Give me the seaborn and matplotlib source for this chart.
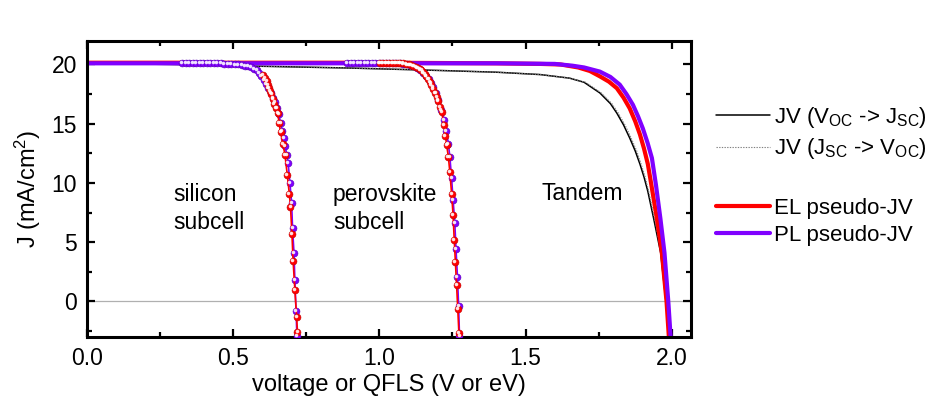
import numpy as np
import pandas as pd
import matplotlib
matplotlib.use('Agg')
import matplotlib.pyplot as plt
import matplotlib.transforms as mtransforms
from matplotlib.ticker import MultipleLocator
import seaborn as sns

# --- Data (voltage / QFLS in V or eV, J in mA/cm2) ---
# Tandem, measured JV (Voc -> Jsc)
jv_fwd_v = [0.0, 0.3, 0.6, 0.9, 1.2, 1.4, 1.55, 1.65, 1.70, 1.754, 1.79, 1.812, 1.835,
            1.856, 1.875, 1.891, 1.905, 1.918, 1.938, 1.962, 1.980, 1.990]
jv_fwd_j = [20.1, 20.0, 19.85, 19.7, 19.5, 19.35, 19.15, 18.85, 18.5, 17.6, 16.7, 15.9, 14.9,
            13.8, 12.7, 11.6, 10.5, 9.3, 7.0, 4.1, 0.0, -3.0]
# Tandem, measured JV (Jsc -> Voc)
jv_rev_v = [0.0, 0.3, 0.6, 0.9, 1.2, 1.4, 1.55, 1.65, 1.705, 1.759, 1.795, 1.817, 1.840,
            1.861, 1.880, 1.895, 1.909, 1.921, 1.941, 1.964, 1.981, 1.990]
jv_rev_j = [20.1, 20.0, 19.85, 19.7, 19.5, 19.35, 19.15, 18.85, 18.5, 17.6, 16.7, 15.9, 14.9,
            13.8, 12.7, 11.6, 10.5, 9.3, 7.0, 4.1, 0.0, -3.0]
# Tandem, EL pseudo-JV
el_tan_v = [0.0, 1.0, 1.4, 1.55, 1.62, 1.68, 1.72, 1.754, 1.785, 1.812, 1.835, 1.856, 1.875,
            1.891, 1.905, 1.918, 1.927, 1.949, 1.966, 1.982, 1.990]
el_tan_j = [20.15, 20.15, 20.1, 20.05, 20.0, 19.75, 19.45, 19.0, 18.55, 18.0, 17.2, 16.3, 15.2,
            14.1, 12.9, 11.6, 10.3, 7.0, 4.1, 0.0, -3.0]
# Tandem, PL pseudo-JV
pl_tan_v = [0.0, 1.0, 1.4, 1.6, 1.66, 1.70, 1.754, 1.79, 1.822, 1.845, 1.867, 1.885, 1.901,
            1.917, 1.932, 1.946, 1.961, 1.975, 1.988, 1.996]
pl_tan_j = [20.1, 20.1, 20.1, 20.05, 19.9, 19.75, 19.4, 18.95, 18.3, 17.5, 16.6, 15.6, 14.6,
            13.4, 12.1, 9.8, 7.0, 4.1, 0.0, -3.0]

# Silicon subcell
si_pl_v = [0.325, 0.337, 0.349, 0.361, 0.373, 0.385, 0.397, 0.409, 0.421, 0.433, 0.445, 0.457,
           0.469, 0.481, 0.493, 0.505, 0.517, 0.529, 0.541,
           0.552, 0.562, 0.571, 0.580, 0.588, 0.596, 0.604, 0.612, 0.620, 0.628, 0.636, 0.643,
           0.650, 0.656, 0.662, 0.668, 0.673, 0.678, 0.683, 0.688, 0.694, 0.700, 0.703, 0.708,
           0.711, 0.715, 0.718]
si_pl_j = [20.1, 20.1, 20.1, 20.1, 20.1, 20.1, 20.1, 20.1, 20.1, 20.1, 20.1, 20.1,
           20.05, 20.05, 20.05, 20.0, 20.0, 19.95, 19.9,
           19.85, 19.75, 19.65, 19.5, 19.3, 19.0, 18.7, 18.35, 18.0, 17.6, 17.2, 16.8,
           16.3, 15.8, 15.1, 14.4, 13.8, 13.1, 12.4, 11.7, 10.0, 8.3, 6.2, 4.1,
           1.8, -0.8, -2.9]
si_el_v = [0.603, 0.609, 0.614, 0.618, 0.622, 0.627, 0.631, 0.635, 0.639, 0.645, 0.652, 0.657,
           0.662, 0.670, 0.677, 0.685, 0.692, 0.696, 0.701, 0.705, 0.711, 0.717, 0.720]
si_el_j = [19.1, 18.85, 18.6, 18.3, 18.0, 17.75, 17.5, 17.1, 16.7, 16.3, 15.9, 15.1,
           14.3, 13.3, 12.4, 10.7, 9.1, 8.0, 5.7, 3.4, 1.0, -1.3, -2.6]

# Perovskite subcell
pk_pl_v = [0.890, 0.902, 0.914, 0.926, 0.938, 0.950, 0.962, 0.974, 0.986, 0.998, 1.010, 1.022,
           1.034, 1.046, 1.058, 1.070, 1.082, 1.094, 1.106, 1.118, 1.130, 1.140, 1.150,
           1.160, 1.168, 1.176, 1.184, 1.192, 1.201, 1.212, 1.222, 1.229, 1.236, 1.241, 1.247,
           1.252, 1.258, 1.262, 1.267, 1.271, 1.274]
pk_pl_j = [20.1, 20.1, 20.1, 20.1, 20.1, 20.1, 20.1, 20.1, 20.1, 20.1, 20.1, 20.1,
           20.1, 20.1, 20.1, 20.1, 20.05, 20.0, 19.95, 19.85, 19.7, 19.5, 19.25,
           19.0, 18.75, 18.45, 18.1, 17.6, 17.0, 16.2, 15.3, 14.4, 13.3, 12.2, 10.4,
           8.6, 6.6, 4.4, 2.1, -0.4, -2.9]
pk_el_v = [1.002, 1.012, 1.022, 1.032, 1.042, 1.052, 1.062, 1.072, 1.082, 1.091, 1.100, 1.108,
           1.116, 1.124, 1.131, 1.138, 1.144, 1.150, 1.156, 1.161, 1.167, 1.173, 1.178, 1.184,
           1.190, 1.196, 1.201, 1.207, 1.213, 1.221, 1.226, 1.230, 1.236, 1.241, 1.247, 1.252,
           1.256, 1.260, 1.264, 1.268, 1.272]
pk_el_j = [20.1, 20.1, 20.1, 20.1, 20.1, 20.1, 20.1, 20.1, 20.1, 20.05, 20.0, 19.95,
           19.9, 19.8, 19.7, 19.6, 19.5, 19.35, 19.2, 19.0, 18.8, 18.55, 18.3, 17.95,
           17.6, 17.25, 16.9, 16.45, 16.0, 14.9, 14.0, 13.2, 12.2, 10.9, 9.1, 7.3,
           5.2, 3.3, 1.4, -0.6, -2.7]

labels = ['JV (V$_{OC}$ -> J$_{SC}$)', 'JV (J$_{SC}$ -> V$_{OC}$)', 'EL pseudo-JV', 'PL pseudo-JV']
annotations = [('silicon\nsubcell', 0.296, 7.85), ('perovskite\nsubcell', 0.841, 7.85),
               ('Tandem', 1.554, 9.1)]

RED = '#ff0000'
PURPLE = '#8000ff'

sns.set_theme(style='ticks')
plt.rcParams['font.family'] = ['Liberation Sans', 'DejaVu Sans']
plt.rcParams['mathtext.default'] = 'regular'
plt.rcParams['text.color'] = 'black'
plt.rcParams['axes.labelcolor'] = 'black'

fig = plt.figure(figsize=(9.29, 4.08), dpi=100)
ax = fig.add_axes([0.0936, 0.174, 0.650, 0.726])

ax.axhline(0, color='#b0b0b0', lw=0.9, zorder=0)

tandem = [
    (jv_fwd_v, jv_fwd_j, 'black', '-', 1.1, labels[0]),
    (jv_rev_v, jv_rev_j, '#808080', (0, (1.2, 1.2)), 0.8, labels[1]),
    (el_tan_v, el_tan_j, RED, '-', 3.0, labels[2]),
    (pl_tan_v, pl_tan_j, PURPLE, '-', 3.0, labels[3]),
]
for v, j, c, ls, lw, lab in tandem:
    df = pd.DataFrame({'v': v, 'j': j})
    sns.lineplot(data=df, x='v', y='j', ax=ax, color=c, linestyle=ls, lw=lw,
                 estimator=None, sort=False, label=lab, legend=False)

# subcells: line + ball markers
highlight = mtransforms.offset_copy(ax.transData, fig=fig, x=-0.7, y=0.7, units='points')
subcells = [
    (si_pl_v, si_pl_j, PURPLE, '#5a00b4'),
    (si_el_v, si_el_j, RED, '#c00000'),
    (pk_pl_v, pk_pl_j, PURPLE, '#5a00b4'),
    (pk_el_v, pk_el_j, RED, '#c00000'),
]
for v, j, c, ec in subcells:
    df = pd.DataFrame({'v': v, 'j': j})
    sns.lineplot(data=df, x='v', y='j', ax=ax, color=c, lw=1.2, estimator=None, sort=False,
                 marker='o', markersize=5, markerfacecolor=c, markeredgecolor=ec,
                 markeredgewidth=0.4, legend=False, zorder=3)
    ax.plot(v, j, linestyle='none', marker='o', markersize=1.6, color='white',
            alpha=0.8, transform=highlight, zorder=4)

for txt, x, y in annotations:
    ax.text(x, y, txt, fontsize=16.5, ha='left', va='center', linespacing=1.25, color='black')

ax.set_xlim(0, 2.065)
ax.set_ylim(-3, 22)
ax.xaxis.set_major_locator(MultipleLocator(0.5))
ax.xaxis.set_minor_locator(MultipleLocator(0.25))
ax.yaxis.set_major_locator(MultipleLocator(5))
ax.yaxis.set_minor_locator(MultipleLocator(2.5))
ax.xaxis.set_major_formatter(matplotlib.ticker.FormatStrFormatter('%.1f'))
ax.tick_params(which='both', direction='in', top=True, right=True, width=1.6,
               labelsize=16.5, colors='black')
ax.tick_params(which='major', length=6, pad=7)
ax.tick_params(which='minor', length=3.5)
for s in ax.spines.values():
    s.set_linewidth(2.2)
    s.set_color('black')

ax.set_xlabel('voltage or QFLS (V or eV)', fontsize=17, labelpad=3)
ax.set_ylabel('J (mA/cm$^2$)', fontsize=17, labelpad=6)

handles, labs = ax.get_legend_handles_labels()
hmap = dict(zip(labs, handles))
leg_kw = dict(frameon=False, fontsize=16, handlelength=2.4, handletextpad=0.2,
              borderpad=0, borderaxespad=0, loc='center left')
leg1 = fig.legend([hmap[labels[0]], hmap[labels[1]]], labels[:2],
                  bbox_to_anchor=(0.771, 0.674), labelspacing=0.3, **leg_kw)
leg2 = fig.legend([hmap[labels[2]], hmap[labels[3]]], labels[2:],
                  bbox_to_anchor=(0.771, 0.457), labelspacing=0.27, **leg_kw)

fig.savefig('out.png', dpi=100)
